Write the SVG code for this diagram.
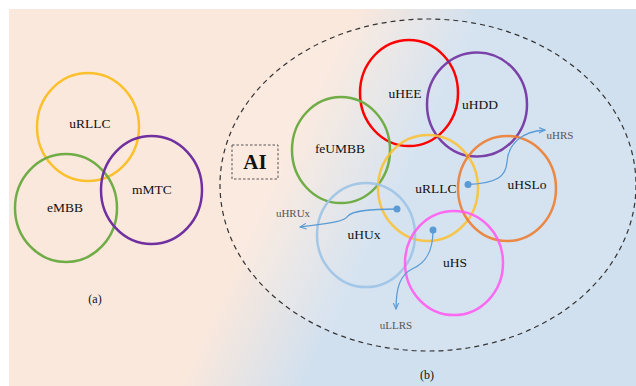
<svg xmlns="http://www.w3.org/2000/svg" width="636" height="386" viewBox="0 0 636 386">
<defs>
<linearGradient id="bg" gradientUnits="userSpaceOnUse" x1="278" y1="170" x2="384" y2="220">
<stop offset="0" stop-color="#fbe8dc"/>
<stop offset="1" stop-color="#d0e0ef"/>
</linearGradient>
<marker id="ah" viewBox="0 0 10 10" refX="9" refY="5" markerWidth="7" markerHeight="7" orient="auto" markerUnits="userSpaceOnUse">
<path d="M0,1 L9,5 L0,9" fill="none" stroke="#5b9bd5" stroke-width="1.6"/>
</marker>
<style>
.c{fill:none;stroke-width:2.5}
.t{font-size:13.5px;fill:#111;text-anchor:middle;dominant-baseline:central}
.s{font-size:11px;fill:#555;text-anchor:middle;dominant-baseline:central}
.a{fill:none;stroke:#5b9bd5;stroke-width:1.3}
</style>
</defs>
<rect x="0" y="0" width="636" height="386" fill="#ffffff"/>
<rect x="9" y="9" width="627" height="377" fill="url(#bg)"/>
<g id="frame">
<ellipse cx="428" cy="185" rx="208" ry="166" fill="#ffffff" fill-opacity="0.12" stroke="#333" stroke-width="1.2" stroke-dasharray="5,4"/>
</g>
<g font-family="'Liberation Serif', 'DejaVu Serif', serif">
<g id="AI">
<rect x="232" y="145" width="46" height="34" fill="none" stroke="#444" stroke-width="0.9" stroke-dasharray="2.5,2"/>
<text x="255" y="162" class="t" style="font-size:21px;font-weight:bold">AI</text>
</g>
<g id="uRLLC-a"><ellipse class="c" cx="88" cy="127" rx="51" ry="54" stroke="#fbc02d"/><text class="t" x="90" y="123">uRLLC</text></g>
<g id="eMBB"><ellipse class="c" cx="66" cy="208" rx="51" ry="54" stroke="#70ad47"/><text class="t" x="65" y="207">eMBB</text></g>
<g id="mMTC"><ellipse class="c" cx="151.5" cy="190" rx="50.5" ry="54" stroke="#7030a0"/><text class="t" x="152" y="189">mMTC</text></g>
<text class="t" x="95" y="299" style="font-size:12px">(a)</text>
<g id="uHEE"><ellipse class="c" cx="409" cy="93" rx="49" ry="53" stroke="#ff0000"/><text class="t" x="405" y="93">uHEE</text></g>
<g id="uHDD"><ellipse class="c" cx="477" cy="104.5" rx="50" ry="52" stroke="#7030a0" stroke-opacity="0.9"/><text class="t" x="480" y="104">uHDD</text></g>
<g id="feUMBB"><ellipse class="c" cx="341" cy="150" rx="49" ry="53" stroke="#70ad47"/><text class="t" x="340" y="148">feUMBB</text></g>
<g id="uRLLC-b"><ellipse class="c" cx="428" cy="188" rx="50" ry="53" stroke="#fbc02d" stroke-opacity="0.85"/><text class="t" x="436" y="188">uRLLC</text></g>
<g id="uHSLo"><ellipse class="c" cx="507" cy="188.5" rx="49" ry="52.5" stroke="#ed7d31" stroke-opacity="0.9"/><text class="t" x="527" y="184">uHSLo</text></g>
<g id="uHUx"><ellipse class="c" cx="366" cy="235" rx="49" ry="52" stroke="#9dc3e6" stroke-opacity="0.9"/><text class="t" x="364" y="234">uHUx</text></g>
<g id="uHS"><ellipse class="c" cx="454" cy="263" rx="49" ry="52" stroke="#ff5cf0" stroke-opacity="0.9"/><text class="t" x="455" y="262">uHS</text></g>
<g id="connectors">
<circle cx="468" cy="184.5" r="3.5" fill="#5b9bd5"/>
<path class="a" marker-end="url(#ah)" d="M468,184.5 C498,183 506,176 507,162 C508,146 520,131 545,130"/>
<circle cx="397" cy="209" r="3.5" fill="#5b9bd5"/>
<path class="a" marker-end="url(#ah)" d="M397,209 C372,209 352,211 348,216 C344,222 330,223 300,227"/>
<circle cx="433" cy="230" r="3.5" fill="#5b9bd5"/>
<path class="a" marker-end="url(#ah)" d="M433,230 C433,254 424,264 412,269 C400,275 396,288 396,309"/>
</g>
<text class="s" x="560" y="135">uHRS</text>
<text class="s" x="293" y="213">uHRUx</text>
<text class="s" x="396" y="325">uLLRS</text>
<text class="t" x="427" y="375" style="font-size:12px">(b)</text>
</g>
</svg>
